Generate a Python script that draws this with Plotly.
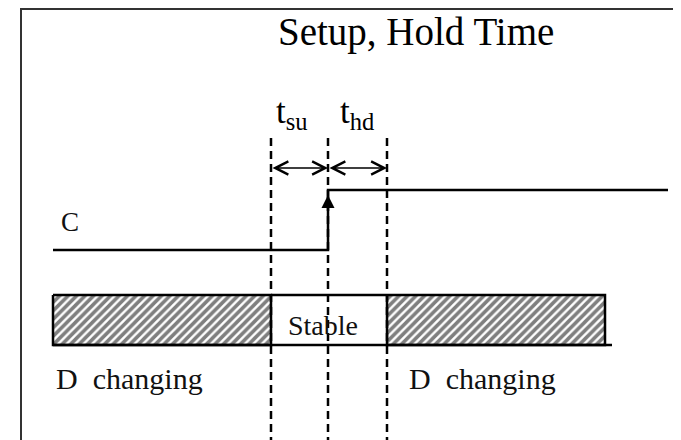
import plotly.graph_objects as go

# ---- data (diagram coordinates, pixel-like units) ----
clock_t = [53, 328, 328, 668]
clock_level = [250, 250, 190, 190]
edge_marks = [271, 328, 387]          # setup start, clock edge, hold end
dash_top, dash_bottom = 138, 445
d_left, d_right = 53, 605
d_top, d_bottom = 295, 345
arrow_y = 168
labels = ["C", "Stable", "D  changing", "D  changing"]
label_x = [70, 323, 129, 482]
label_y = [222, 325, 378, 378]
title_text = "Setup, Hold Time"

FONT = "Liberation Serif"
OFF = 8  # page body margin offset
fig = go.Figure()

# hatched D-changing regions
for x0, x1 in [(d_left, edge_marks[0]), (edge_marks[2], d_right)]:
    fig.add_trace(go.Scatter(
        x=[x0, x1, x1, x0, x0], y=[d_top, d_top, d_bottom, d_bottom, d_top],
        mode="lines", fill="toself", fillcolor="white",
        fillpattern=dict(shape="/", size=6, solidity=0.6, fgcolor="black", bgcolor="white"),
        line=dict(color="black", width=2.5), hoverinfo="skip", showlegend=False))

# stable region borders (top/bottom)
fig.add_trace(go.Scatter(x=[edge_marks[0], edge_marks[2]], y=[d_top, d_top],
                         mode="lines", line=dict(color="black", width=2.5), showlegend=False))
fig.add_trace(go.Scatter(x=[d_left, 612], y=[d_bottom, d_bottom],
                         mode="lines", line=dict(color="black", width=2.5), showlegend=False))

# dashed vertical lines
for xm in edge_marks:
    fig.add_trace(go.Scatter(x=[xm, xm], y=[dash_top, dash_bottom], mode="lines",
                             line=dict(color="black", width=2.5, dash="8px,5px"),
                             showlegend=False, hoverinfo="skip"))

# clock signal C
fig.add_trace(go.Scatter(x=clock_t, y=clock_level, mode="lines",
                         line=dict(color="black", width=2.5), showlegend=False))

annotations = []
# rising edge arrow
annotations.append(dict(x=clock_t[1], y=195, ax=clock_t[1], ay=230, xref="x", yref="y",
                        axref="x", ayref="y", showarrow=True, arrowhead=2, arrowsize=1.3,
                        arrowwidth=2, arrowcolor="black", text=""))
# setup / hold double arrows
for x0, x1 in [(edge_marks[0], edge_marks[1]), (edge_marks[1], edge_marks[2])]:
    annotations.append(dict(x=x1, y=arrow_y, ax=x0, ay=arrow_y, xref="x", yref="y",
                            axref="x", ayref="y", showarrow=True, arrowhead=5, startarrowhead=5,
                            arrowside="end+start", arrowsize=1.6, startarrowsize=1.6,
                            arrowwidth=1.6, arrowcolor="black", text=""))
# t_su / t_hd labels
annotations.append(dict(x=292, y=113, xref="x", yref="y", showarrow=False,
                        text="t<sub>su</sub>", font=dict(family=FONT, size=35, color="black")))
annotations.append(dict(x=357, y=113, xref="x", yref="y", showarrow=False,
                        text="t<sub>hd</sub>", font=dict(family=FONT, size=35, color="black")))
# title
annotations.append(dict(x=416, y=32, xref="x", yref="y", showarrow=False,
                        text=title_text, font=dict(family=FONT, size=39, color="black")))
for t, x, y in zip(labels, label_x, label_y):
    annotations.append(dict(x=x, y=y, xref="x", yref="y", showarrow=False, text=t,
                            font=dict(family=FONT, size=30 if "changing" in t else 28 if t == "Stable" else 27,
                                      color="#111")))

# frame
shapes = [dict(type="rect", x0=21, y0=9, x1=678, y1=470, xref="x", yref="y",
               line=dict(color="#333", width=2), layer="below")]

fig.update_layout(
    width=681 - OFF, height=440 - OFF, margin=dict(l=0, r=0, t=0, b=0),
    paper_bgcolor="white", plot_bgcolor="white",
    xaxis=dict(range=[OFF, 681], visible=False, fixedrange=True),
    yaxis=dict(range=[440, OFF], visible=False, fixedrange=True),
    annotations=annotations, shapes=shapes, showlegend=False)

fig.write_html("out.html")
